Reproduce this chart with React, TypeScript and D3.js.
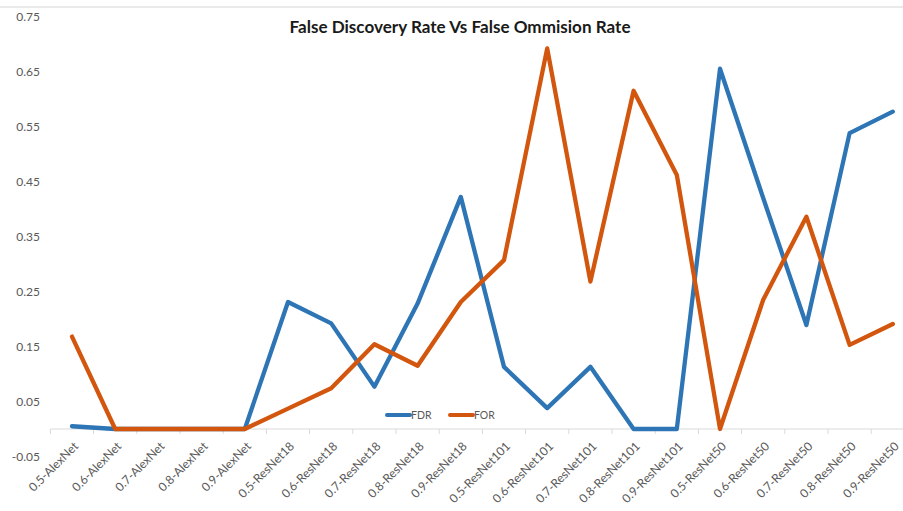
import React from "react";
import * as d3 from "d3";

// Model/threshold combinations along the horizontal axis
const categories = [
  "0.5-AlexNet", "0.6-AlexNet", "0.7-AlexNet", "0.8-AlexNet", "0.9-AlexNet",
  "0.5-ResNet18", "0.6-ResNet18", "0.7-ResNet18", "0.8-ResNet18", "0.9-ResNet18",
  "0.5-ResNet101", "0.6-ResNet101", "0.7-ResNet101", "0.8-ResNet101", "0.9-ResNet101",
  "0.5-ResNet50", "0.6-ResNet50", "0.7-ResNet50", "0.8-ResNet50", "0.9-ResNet50",
];

// False discovery rate
const fdrValues = [
  0.005, 0, 0, 0, 0,
  0.231, 0.192, 0.077, 0.228, 0.422,
  0.113, 0.038, 0.113, 0, 0,
  0.655, 0.42, 0.189, 0.538, 0.577,
];

// False omission rate
const forValues = [
  0.168, 0, 0, 0, 0,
  0.037, 0.074, 0.154, 0.115, 0.231,
  0.307, 0.692, 0.268, 0.615, 0.462,
  0, 0.235, 0.386, 0.153, 0.191,
];

const yTicks = [0.75, 0.65, 0.55, 0.45, 0.35, 0.25, 0.15, 0.05, -0.05];
const yTickLabels = ["0.75", "0.65", "0.55", "0.45", "0.35", "0.25", "0.15", "0.05", "-0.05"];

const seriesNames = ["FDR", "FOR"];
const seriesColors = ["#2E75B6", "#D2560E"];

const W = 903;
const H = 511;
const FONT = "Lato, 'Open Sans', sans-serif";
const LABEL = "#595959";
const AXIS = "#D9D9D9";

export default function App() {
  const x = d3.scaleBand<string>().domain(categories).range([50.4, 914.4]).paddingInner(0).paddingOuter(0);
  const cx = (c: string) => (x(c) as number) + x.bandwidth() / 2;
  const y = d3.scaleLinear().domain([-0.05, 0.75]).range([456.5, 16.5]);

  const line = d3
    .line<number>()
    .x((_, i) => cx(categories[i]))
    .y((d) => y(d));

  const series = [fdrValues, forValues];
  const y0 = y(0);

  return (
    <svg
      width={W}
      height={H}
      style={{ position: "absolute", left: 0, top: 0, background: "#fff" }}
      fontFamily={FONT}
    >
      <rect x={0} y={0} width={W} height={H} fill="#fff" />
      <line x1={0} x2={W} y1={7} y2={7} stroke="#E3E3E3" strokeWidth={1.5} />

      <text
        x={460}
        y={33}
        textAnchor="middle"
        fontSize={17}
        fontWeight={700}
        fill="#1a1a1a"
        textLength={341}
        lengthAdjust="spacingAndGlyphs"
      >
        False Discovery Rate Vs False Ommision Rate
      </text>

      {/* value axis labels */}
      {yTicks.map((t, i) => (
        <text key={t} x={40} y={y(t)} dy="0.35em" textAnchor="end" fontSize={12} fill={LABEL}>
          {yTickLabels[i]}
        </text>
      ))}

      {/* category axis at zero */}
      <line x1={50.4} x2={W} y1={y0} y2={y0} stroke={AXIS} strokeWidth={1} />
      {categories.map((c) => (
        <line
          key={"t" + c}
          x1={x(c) as number}
          x2={x(c) as number}
          y1={y0}
          y2={y0 + 5}
          stroke={AXIS}
          strokeWidth={1}
        />
      ))}
      {categories.map((c) => (
        <text
          key={"l" + c}
          transform={`translate(${cx(c) + 4},${y0 + 15}) rotate(-45)`}
          textAnchor="end"
          fontSize={12}
          fill={LABEL}
          dy="0.35em"
        >
          {c}
        </text>
      ))}

      {/* series lines */}
      {series.map((vals, i) => (
        <path
          key={seriesNames[i]}
          d={line(vals) as string}
          fill="none"
          stroke={seriesColors[i]}
          strokeWidth={4.3}
          strokeLinejoin="round"
          strokeLinecap="round"
        />
      ))}

      {/* legend */}
      {seriesNames.map((name, i) => {
        const lx = 387 + i * 63;
        return (
          <g key={"lg" + name}>
            <line x1={lx} x2={lx + 23} y1={415} y2={415} stroke={seriesColors[i]} strokeWidth={4} strokeLinecap="round" />
            <text x={lx + 24} y={415} dy="0.35em" fontSize={10.5} fill={LABEL}>
              {name}
            </text>
          </g>
        );
      })}
    </svg>
  );
}
